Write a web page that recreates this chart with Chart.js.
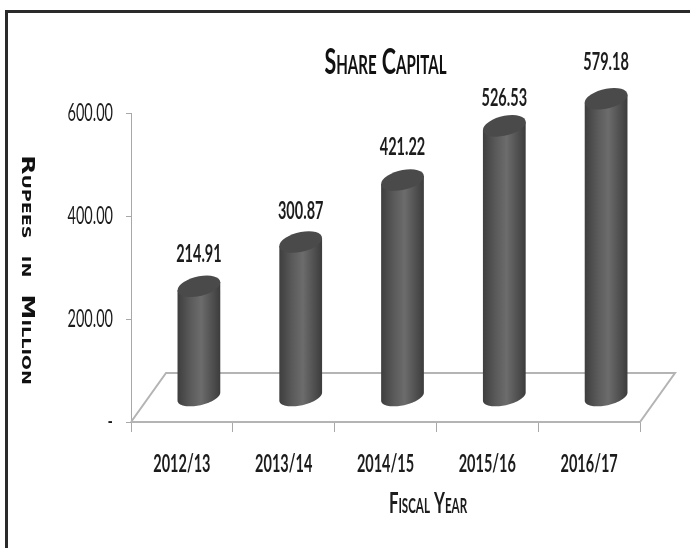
<!DOCTYPE html>
<html>
<head>
<meta charset="utf-8">
<title>Share Capital</title>
<script src="https://cdn.jsdelivr.net/npm/chart.js@4"></script>
<style>
  html, body { margin: 0; padding: 0; background: #fff; overflow: hidden; }
  #wrap { position: relative; width: 690px; height: 548px; overflow: hidden; }
  #frame { position: absolute; left: 5px; top: 10px; width: 800px; height: 700px; border: 3px solid #2a2a2a; }
  canvas { position: absolute; left: 0; top: 0; filter: blur(0.4px); }
</style>
</head>
<body>
<div id="wrap">
  <div id="frame"></div>
  <canvas id="shareChart" width="690" height="548"></canvas>
</div>
<script>
const categories = ['2012/13', '2013/14', '2014/15', '2015/16', '2016/17'];
const shareCapital = [214.91, 300.87, 421.22, 526.53, 579.18];
const yTicks = [0, 200, 400, 600];

const lato = 'Lato, "Liberation Sans", sans-serif';
const axisGray = '#a8a8a8';
const textColor = '#1c1c1c';

// depth of the fake 3D floor, in pixels
const floorDx = 35;
const floorDy = -49;

// how far each value label sits above its cylinder top
const labelLift = [32, 31, 33, 28, 37];

// the reference text is squashed sideways, no narrow font is installed so do it on the context
const canvas = document.getElementById('shareChart');
const baseCtx = canvas.getContext('2d');
const rawFillText = baseCtx.fillText.bind(baseCtx);
const normalSqueeze = 0.58;
let squeeze = normalSqueeze;
baseCtx.fillText = function(text, x, y) {
  baseCtx.save();
  baseCtx.translate(x, y);
  baseCtx.scale(squeeze, 1);
  rawFillText(text, 0, 0);
  baseCtx.restore();
};

function cylinder(ctx, cx, topY, baseY, a) {
  const b = 9;
  const skew = -0.19;

  const grad = ctx.createLinearGradient(cx - a, 0, cx + a, 0);
  grad.addColorStop(0, '#3e3e3e');
  grad.addColorStop(0.3, '#5a5a5a');
  grad.addColorStop(0.55, '#6c6c6c');
  grad.addColorStop(1, '#3c3c3c');

  // body: left edge, lower half of the base, right edge
  ctx.save();
  ctx.beginPath();
  ctx.moveTo(cx - a, topY - skew * a);
  ctx.lineTo(cx - a, baseY - skew * a);
  for (let i = 0; i <= 40; i++) {
    let t = Math.PI - (i / 40) * Math.PI;
    let c = Math.cos(t);
    ctx.lineTo(cx + a * c, baseY + b * Math.sin(t) + skew * a * c);
  }
  ctx.lineTo(cx + a, topY + skew * a);
  ctx.closePath();
  ctx.fillStyle = grad;
  ctx.fill();
  ctx.restore();

  // top cap
  ctx.save();
  ctx.transform(1, skew, 0, 1, cx, topY);
  ctx.beginPath();
  ctx.ellipse(0, 0, a, b + 1, 0, 0, Math.PI * 2);
  ctx.fillStyle = '#4a4a4a';
  ctx.fill();
  ctx.restore();
}

const floorPlugin = {
  id: 'floorPlugin',
  beforeDatasetsDraw(chart) {
    const { ctx, chartArea: { left, right, bottom } } = chart;
    ctx.save();
    ctx.strokeStyle = '#b4b4b4';
    ctx.lineWidth = 2;
    ctx.beginPath();
    ctx.moveTo(left, bottom);
    ctx.lineTo(left + floorDx, bottom + floorDy);
    ctx.lineTo(right + floorDx, bottom + floorDy);
    ctx.lineTo(right, bottom);
    ctx.lineTo(left, bottom);
    ctx.stroke();
    ctx.restore();
  }
};

const cylinderPlugin = {
  id: 'cylinderPlugin',
  afterDatasetsDraw(chart) {
    const ctx = chart.ctx;
    const meta = chart.getDatasetMeta(0);
    meta.data.forEach((bar, i) => {
      const cx = bar.x + 17;
      const topY = bar.y - 25;
      cylinder(ctx, cx, topY, bar.base - 25, bar.width / 2);
      ctx.save();
      ctx.font = 'bold 25px ' + lato;
      ctx.fillStyle = textColor;
      ctx.textAlign = 'center';
      ctx.textBaseline = 'middle';
      ctx.fillText(shareCapital[i].toFixed(2), cx, topY - labelLift[i]);
      ctx.restore();
    });
  }
};

// the y title reads downwards and the x title sits right of centre, chart.js does neither
const axisTitlePlugin = {
  id: 'axisTitlePlugin',
  afterDraw(chart) {
    const ctx = chart.ctx;
    ctx.save();
    ctx.textAlign = 'center';
    ctx.textBaseline = 'middle';

    ctx.font = 'small-caps bold 29px ' + lato;
    ctx.fillStyle = textColor;
    ctx.fillText('Fiscal Year', 428, 504);

    ctx.translate(26, 270);
    ctx.rotate(Math.PI / 2);
    ctx.font = 'small-caps bold 17px "DejaVu Sans"';
    ctx.fillStyle = '#111';
    squeeze = 1.47;
    ctx.fillText('Rupees  in  Million', 0, 0);
    squeeze = normalSqueeze;
    ctx.restore();
  }
};

new Chart(canvas, {
  type: 'bar',
  data: {
    labels: categories,
    datasets: [{
      label: 'Share Capital',
      data: shareCapital,
      backgroundColor: 'transparent',
      categoryPercentage: 1,
      barPercentage: 0.42
    }]
  },
  plugins: [floorPlugin, cylinderPlugin, axisTitlePlugin],
  options: {
    responsive: false,
    animation: false,
    layout: { padding: { left: 0, right: 50, top: 44, bottom: 0 } },
    plugins: {
      legend: { display: false },
      tooltip: { enabled: false },
      title: {
        display: true,
        text: 'Share Capital',
        fullSize: false,
        color: '#111',
        // chart.js only accepts css styles for font.style, so small-caps rides on the weight
        font: { family: lato, size: 37, weight: 'small-caps bold', lineHeight: 1 },
        padding: { top: 0, bottom: 32 }
      }
    },
    scales: {
      x: {
        afterFit(scale) { scale.height = 126; },
        border: { color: axisGray, width: 1 },
        grid: { color: axisGray, drawOnChartArea: false, tickLength: 10, offset: true },
        ticks: { color: textColor, padding: 17, font: { family: lato, size: 25, weight: 'bold' }, maxRotation: 0 }
      },
      y: {
        min: 0,
        max: 600,
        afterFit(scale) { scale.width = 131; },
        afterBuildTicks(scale) { scale.ticks = yTicks.map(v => ({ value: v })); },
        border: { color: axisGray, width: 1 },
        grid: { color: axisGray, drawOnChartArea: false, tickLength: 5 },
        ticks: {
          color: textColor,
          padding: 13,
          font: { family: lato, size: 25 },
          callback(value) { return value === 0 ? '-' : value.toFixed(2); }
        }
      }
    }
  }
});
</script>
</body>
</html>
